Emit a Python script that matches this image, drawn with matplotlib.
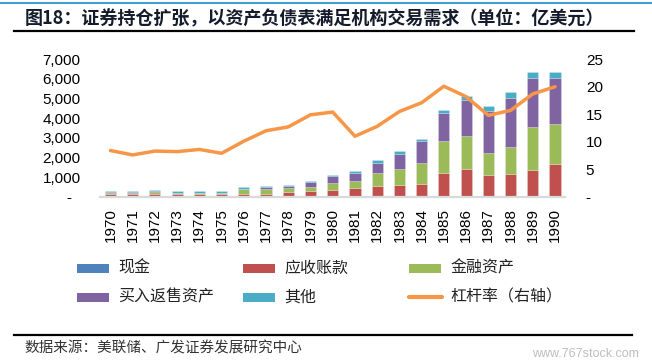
import numpy as np
import matplotlib.pyplot as plt
from matplotlib.patches import Rectangle
from matplotlib.lines import Line2D
from matplotlib.ticker import FuncFormatter

plt.rcParams['font.family'] = ['Liberation Sans', 'Noto Sans CJK SC', 'DejaVu Sans']
CJK = ['Noto Sans CJK SC', 'DejaVu Sans']

years = [str(y) for y in range(1970, 1991)]
# 亿美元
cash = [10, 10, 10, 10, 10, 10, 10, 10, 10, 10, 10, 10, 10, 10, 10, 10, 60, 20, 60, 60, 60]
receivables = [120, 130, 140, 110, 110, 110, 150, 150, 220, 255, 340, 410, 510, 600, 660,
               1190, 1370, 1090, 1110, 1300, 1620]
fin_assets = [80, 70, 100, 80, 80, 80, 240, 240, 190, 220, 370, 390, 710, 810, 1070,
              1650, 1650, 1130, 1350, 2180, 2040]
repo = [10, 10, 30, 10, 10, 10, 10, 85, 100, 240, 310, 420, 510, 780, 1080,
        1410, 1850, 2150, 2530, 2530, 2350]
other = [80, 70, 60, 80, 80, 80, 80, 85, 100, 85, 85, 70, 140, 140, 130,
         170, 210, 220, 270, 270, 270]
leverage = [8.4, 7.6, 8.3, 8.2, 8.6, 7.9, 10.1, 12.0, 12.7, 14.9, 15.4,
            11.0, 12.8, 15.5, 17.1, 20.1, 18.2, 14.8, 15.7, 18.7, 20.0]

names = ['现金', '应收账款', '金融资产', '买入返售资产', '其他']
colors = ['#4F81BD', '#C0504D', '#9BBB59', '#8064A2', '#4BACC6']
orange = '#F79646'

W, H = 652, 364
fig = plt.figure(figsize=(W / 100, H / 100), dpi=100)

def fx(px):
    return px / W

def fy(py):
    return 1 - py / H

ax = fig.add_axes([fx(100), fy(196.7), fx(565) - fx(100), fy(59.3) - fy(196.7)])
x = np.arange(len(years))
bottom = np.zeros(len(years))
for vals, c in zip([cash, receivables, fin_assets, repo, other], colors):
    ax.bar(x, vals, width=0.5, bottom=bottom, color=c,
           edgecolor=(1, 1, 1, 0.35), linewidth=0.4, zorder=2)
    bottom += np.array(vals)

ax.set_xlim(-0.47, 20.45)
ax.set_ylim(0, 7000)
ax.set_yticks(range(0, 7001, 1000))
ax.yaxis.set_major_formatter(FuncFormatter(lambda v, p: '-  ' if v == 0 else f'{int(v):,}'))
ax.set_xticks(x)
ax.set_xticklabels(years, rotation=90)
for s in ['top', 'right', 'left']:
    ax.spines[s].set_visible(False)
ax.spines['bottom'].set_color('#D9D9D9')
ax.spines['bottom'].set_linewidth(1.6)
ax.tick_params(axis='both', length=0, labelsize=11, colors='black')
ax.tick_params(axis='y', pad=14)
ax.tick_params(axis='x', pad=8)

ax2 = ax.twinx()
ax2.plot(x, leverage, color=orange, linewidth=2.5, solid_capstyle='round', zorder=3)
ax2.set_ylim(0, 25)
ax2.set_yticks(range(0, 26, 5))
ax2.yaxis.set_major_formatter(FuncFormatter(lambda v, p: '-' if v == 0 else f'{int(v)}'))
for s in ['top', 'right', 'left', 'bottom']:
    ax2.spines[s].set_visible(False)
ax2.tick_params(axis='y', length=0, labelsize=11, pad=15)

# legend, laid out in three columns like the original
leg_cols = [77, 243, 409]
leg_rows = [268.3, 297.3]
entries = list(zip(names, colors)) + [('杠杆率（右轴）', orange)]
entry_pos = {0: (0, 0), 1: (0, 1), 2: (0, 2), 3: (1, 0), 4: (1, 1), 5: (1, 2)}
for i, (lab, c) in enumerate(entries):
    r, col = entry_pos[i]
    x0 = leg_cols[col]
    yc = leg_rows[r]
    if i < 5:
        fig.add_artist(Rectangle((fx(x0), fy(yc + 4.5)), fx(32), 9 / H,
                                 transform=fig.transFigure, color=c, lw=0))
    else:
        fig.add_artist(Line2D([fx(x0), fx(x0 + 33)], [fy(yc), fy(yc)],
                              transform=fig.transFigure, color=c, lw=3,
                              solid_capstyle='round'))
    fig.text(fx(x0 + 41), fy(yc), lab, family=CJK, fontsize=11.5,
             va='center', ha='left', color='#222222')

# header / footer
fig.add_artist(Line2D([0, 1], [fy(3), fy(3)], transform=fig.transFigure,
                      color='#3FA0D8', lw=1.5))
fig.text(fx(25), fy(18.5), '图18：证券持仓扩张，以资产负债表满足机构交易需求（单位：亿美元）',
         family=CJK, fontsize=13, fontweight='bold', color='#141C2C',
         va='center', ha='left')
fig.add_artist(Line2D([fx(14), fx(634)], [fy(30.7), fy(30.7)],
                      transform=fig.transFigure, color='black', lw=1.6))
fig.add_artist(Line2D([fx(14), fx(632)], [fy(335), fy(335)],
                      transform=fig.transFigure, color='black', lw=1.6))
fig.text(fx(24), fy(348), '数据来源：美联储、广发证券发展研究中心', family=CJK,
         fontsize=10.5, color='#333333', va='center', ha='left')
fig.text(fx(639), fy(354), 'www.767stock.com', fontsize=9, color='#BDBDBD',
         va='center', ha='right')

fig.savefig('out.png', dpi=100)
